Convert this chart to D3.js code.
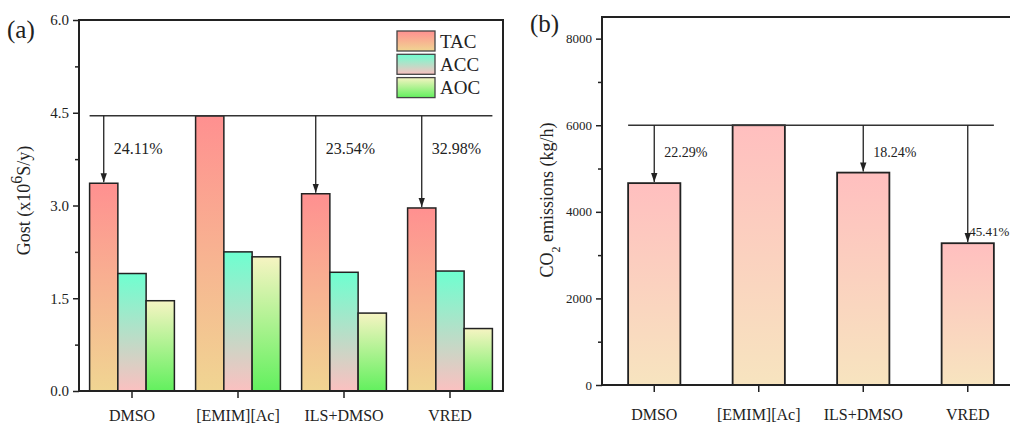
<!DOCTYPE html>
<html>
<head>
<meta charset="utf-8">
<script src="https://cdn.jsdelivr.net/npm/d3@7"></script>
<style>
    body { margin: 0; background: #fff; }
    svg text { font-family: "Liberation Serif", "Times New Roman", serif; fill: #222; }
</style>
</head>
<body>
<svg id="chart" width="1010" height="426"></svg>
<script>
    // data
    const categories = ["DMSO", "[EMIM][Ac]", "ILS+DMSO", "VRED"];
    const costSeries = ["TAC", "ACC", "AOC"];
    const tac = [3.36, 4.45, 3.19, 2.96];
    const acc = [1.90, 2.25, 1.92, 1.94];
    const aoc = [1.46, 2.17, 1.26, 1.01];
    const costRef = 4.45;
    const costPct = ["24.11%", null, "23.54%", "32.98%"];
    const costTicks = [0.0, 1.5, 3.0, 4.5, 6.0];

    const co2 = [4663, 6000, 4906, 3275];
    const co2Ref = 6000;
    const co2Pct = ["22.29%", null, "18.24%", "45.41%"];
    const co2Ticks = [0, 2000, 4000, 6000, 8000];

    const svg = d3.select("#chart");
    const defs = svg.append("defs");

    const grad = (id, top, bottom) => {
        const g = defs.append("linearGradient").attr("id", id)
            .attr("x1", 0).attr("y1", 0).attr("x2", 0).attr("y2", 1);
        g.append("stop").attr("offset", "0%").attr("stop-color", top);
        g.append("stop").attr("offset", "100%").attr("stop-color", bottom);
    };
    grad("gTAC", "#ff9090", "#f0d592");
    grad("gACC", "#6effd0", "#fbc0c0");
    grad("gAOC", "#f6f4c2", "#62f05e");
    grad("gCO2", "#ffbfbf", "#f7e4bf");

    defs.append("marker").attr("id", "arrow")
        .attr("viewBox", "0 0 10 10").attr("refX", 10).attr("refY", 5)
        .attr("markerWidth", 7).attr("markerHeight", 7).attr("orient", "auto")
        .append("path").attr("d", "M0,1.5L10,5L0,8.5z").attr("fill", "#222");

    const axisStyle = (g) => {
        g.attr("font-family", null);
        g.selectAll(".domain").remove();
        g.selectAll(".tick line").attr("stroke", "#222").attr("stroke-width", 1.5);
        g.selectAll(".tick text").attr("fill", "#222");
    };

    // ---------- panel (a) ----------
    const A = { left: 79, right: 503, top: 20, bottom: 391 };

    const xa = d3.scaleBand().domain(categories).range([A.left, A.right])
        .paddingInner(0.2).paddingOuter(0.1);
    const xaSub = d3.scaleBand().domain(costSeries).range([0, xa.bandwidth()]);
    const ya = d3.scaleLinear().domain([0, 6]).range([A.bottom, A.top]);

    const pa = svg.append("g");

    const costData = costSeries.map((s, k) => ({
        key: s, values: [tac, acc, aoc][k]
    }));

    pa.selectAll("g.series").data(costData).join("g").attr("class", "series")
        .selectAll("rect").data(d => d.values.map((v, i) => ({ key: d.key, cat: categories[i], v })))
        .join("rect")
        .attr("x", d => xa(d.cat) + xaSub(d.key))
        .attr("y", d => ya(d.v))
        .attr("width", xaSub.bandwidth())
        .attr("height", d => ya(0) - ya(d.v))
        .attr("fill", d => "url(#g" + d.key + ")")
        .attr("stroke", "#222").attr("stroke-width", 1.5);

    // reference line + arrows
    const aLeft = xa(categories[0]), aRight = xa(categories[3]) + xa.bandwidth();
    pa.append("line").attr("x1", aLeft).attr("x2", aRight)
        .attr("y1", ya(costRef)).attr("y2", ya(costRef))
        .attr("stroke", "#333").attr("stroke-width", 1.5);
    categories.forEach((c, i) => {
        if (!costPct[i]) return;
        const cx = xa(c) + xaSub("TAC") + xaSub.bandwidth() / 2;
        pa.append("line").attr("x1", cx).attr("x2", cx)
            .attr("y1", ya(costRef)).attr("y2", ya(tac[i]) - 1)
            .attr("stroke", "#222").attr("stroke-width", 1.3)
            .attr("marker-end", "url(#arrow)");
        pa.append("text").attr("x", cx + 10).attr("y", 154)
            .attr("font-size", 16).text(costPct[i]);
    });

    // axes (a)
    const yaAxis = pa.append("g").attr("transform", `translate(${A.left},0)`)
        .call(d3.axisLeft(ya).tickValues(costTicks).tickFormat(d3.format(".1f")).tickSize(6).tickPadding(4))
        .call(axisStyle);
    yaAxis.selectAll(".tick text").attr("font-size", 15);
    pa.append("g").attr("transform", `translate(${A.left},0)`)
        .call(d3.axisLeft(ya).tickValues([0.75, 2.25, 3.75, 5.25]).tickFormat("").tickSize(4))
        .call(axisStyle);

    const xaAxis = pa.append("g").attr("transform", `translate(0,${A.bottom})`)
        .call(d3.axisBottom(xa).tickSize(7).tickPadding(12))
        .call(axisStyle);
    xaAxis.selectAll(".tick text").attr("font-size", 16);

    pa.append("rect").attr("x", A.left).attr("y", A.top)
        .attr("width", A.right - A.left).attr("height", A.bottom - A.top)
        .attr("fill", "none").attr("stroke", "#222").attr("stroke-width", 2);

    const ylabA = pa.append("text")
        .attr("transform", `translate(30,${(A.top + A.bottom) / 2 - 5}) rotate(-90)`)
        .attr("text-anchor", "middle").attr("font-size", 18);
    ylabA.append("tspan").text("Gost (x10");
    ylabA.append("tspan").attr("baseline-shift", "super").attr("font-size", 16).text("6");
    ylabA.append("tspan").text("S/y)");

    pa.append("text").attr("x", 7).attr("y", 38).attr("font-size", 25).text("(a)");

    // legend
    const leg = pa.append("g").attr("transform", "translate(397,31)");
    costSeries.forEach((s, k) => {
        leg.append("rect").attr("x", 0).attr("y", k * 23.3)
            .attr("width", 38).attr("height", 20)
            .attr("fill", "url(#g" + s + ")").attr("stroke", "#444").attr("stroke-width", 1.3);
        leg.append("text").attr("x", 43).attr("y", k * 23.3 + 16.5)
            .attr("font-size", 19).text(s);
    });

    // ---------- panel (b) ----------
    const B = { left: 602, right: 1020, top: 17, bottom: 385 };
    const xb = d3.scaleBand().domain(categories).range([B.left, B.right])
        .paddingInner(0.5).paddingOuter(0.25);
    const yb = d3.scaleLinear().domain([0, 8500]).range([B.bottom, B.top]);

    const pb = svg.append("g");

    pb.selectAll("rect.bar").data(co2).join("rect").attr("class", "bar")
        .attr("x", (d, i) => xb(categories[i]))
        .attr("y", d => yb(d))
        .attr("width", xb.bandwidth())
        .attr("height", d => yb(0) - yb(d))
        .attr("fill", "url(#gCO2)")
        .attr("stroke", "#222").attr("stroke-width", 1.8);

    const bLeft = xb(categories[0]), bRight = xb(categories[3]) + xb.bandwidth();
    pb.append("line").attr("x1", bLeft).attr("x2", bRight)
        .attr("y1", yb(co2Ref)).attr("y2", yb(co2Ref))
        .attr("stroke", "#333").attr("stroke-width", 1.5);
    const pctY = [157, null, 157, 236];
    categories.forEach((c, i) => {
        if (!co2Pct[i]) return;
        const cx = xb(c) + xb.bandwidth() / 2;
        pb.append("line").attr("x1", cx).attr("x2", cx)
            .attr("y1", yb(co2Ref)).attr("y2", yb(co2[i]) - 1)
            .attr("stroke", "#222").attr("stroke-width", 1.3)
            .attr("marker-end", "url(#arrow)");
        pb.append("text").attr("x", cx + (i === 3 ? 1.5 : 10)).attr("y", pctY[i])
            .attr("font-size", i === 3 ? 13 : 14).text(co2Pct[i]);
    });

    const ybAxis = pb.append("g").attr("transform", `translate(${B.left},0)`)
        .call(d3.axisLeft(yb).tickValues(co2Ticks).tickFormat(d3.format("d")).tickSize(6).tickPadding(4))
        .call(axisStyle);
    ybAxis.selectAll(".tick text").attr("font-size", 13);
    pb.append("g").attr("transform", `translate(${B.left},0)`)
        .call(d3.axisLeft(yb).tickValues([1000, 3000, 5000, 7000]).tickFormat("").tickSize(4))
        .call(axisStyle);

    const xbAxis = pb.append("g").attr("transform", `translate(0,${B.bottom})`)
        .call(d3.axisBottom(xb).tickSize(7).tickPadding(17))
        .call(axisStyle);
    xbAxis.selectAll(".tick text").attr("font-size", 16);

    pb.append("rect").attr("x", B.left).attr("y", B.top)
        .attr("width", B.right - B.left).attr("height", B.bottom - B.top)
        .attr("fill", "none").attr("stroke", "#222").attr("stroke-width", 2);

    const ylabB = pb.append("text")
        .attr("transform", `translate(553,200) rotate(-90)`)
        .attr("text-anchor", "middle").attr("font-size", 18);
    ylabB.append("tspan").text("CO");
    ylabB.append("tspan").attr("baseline-shift", "sub").attr("font-size", 12).text("2");
    ylabB.append("tspan").text(" emissions (kg/h)");

    pb.append("text").attr("x", 530).attr("y", 32).attr("font-size", 25).text("(b)");
</script>
</body>
</html>
